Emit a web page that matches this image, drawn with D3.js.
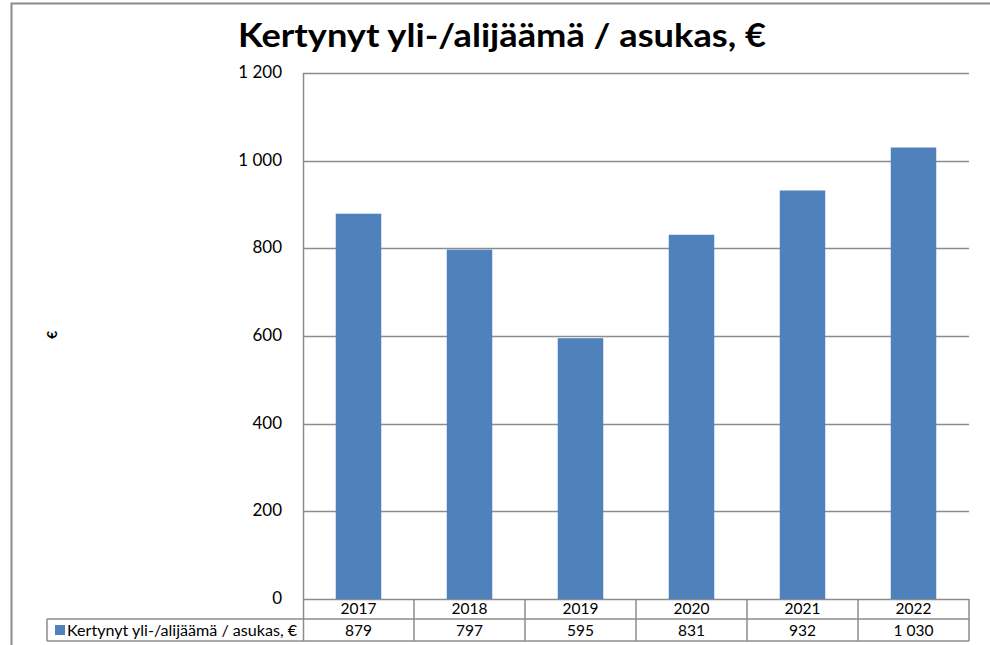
<!DOCTYPE html>
<html>
<head>
<meta charset="utf-8">
<script src="https://cdn.jsdelivr.net/npm/d3@7"></script>
<style>
  body { margin: 0; background: #fff; }
  text { font-family: Lato, "Open Sans", sans-serif; fill: #000; }
</style>
</head>
<body>
<script>
// data
const years = ['2017', '2018', '2019', '2020', '2021', '2022'];
const values = [879, 797, 595, 831, 932, 1030];
const yTicks = [0, 200, 400, 600, 800, 1000, 1200];
const seriesName = 'Kertynyt yli-/alijäämä / asukas, €';

(function () {
const width = 990, height = 645;
const pLeft = 303, pRight = 969, pTop = 73, pBottom = 599;
const fmt = v => d3.format(',')(v).replace(/,/g, ' ');

let svg = d3.select('body').append('svg')
  .attr('width', width).attr('height', height);

// outer frame
svg.append('path')
  .attr('d', `M11.5,${height + 2} V3.5 H${width + 2}`)
  .attr('fill', 'none').attr('stroke', '#8c8c8c').attr('stroke-width', 2);

svg.append('text')
  .attr('x', 502).attr('y', 47)
  .attr('text-anchor', 'middle')
  .attr('font-size', 32).attr('font-weight', 'bold')
  .attr('textLength', 528).attr('lengthAdjust', 'spacingAndGlyphs')
  .text('Kertynyt yli-/alijäämä / asukas, €');

let x = d3.scaleBand().domain(years).range([pLeft, pRight]).paddingInner(0.59).paddingOuter(0.295);
let xc = d3.scaleBand().domain(years).range([pLeft, pRight]);
let y = d3.scaleLinear().domain([0, 1200]).range([pBottom, pTop]);

// grid
svg.append('g').selectAll('line').data(yTicks).join('line')
  .attr('x1', pLeft).attr('x2', pRight)
  .attr('y1', d => Math.round(y(d)) + 0.5).attr('y2', d => Math.round(y(d)) + 0.5)
  .attr('stroke', '#8c8c8c').attr('stroke-width', 1.5);

svg.append('line')
  .attr('x1', pLeft + 0.5).attr('x2', pLeft + 0.5)
  .attr('y1', pTop).attr('y2', pBottom + 42)
  .attr('stroke', '#8c8c8c').attr('stroke-width', 1.5);

svg.append('g').selectAll('text').data(yTicks).join('text')
  .attr('x', 282).attr('y', d => y(d) + 5)
  .attr('text-anchor', 'end').attr('font-size', 17)
  .text(fmt);

svg.append('text')
  .attr('transform', 'translate(57,335) rotate(-90)')
  .attr('text-anchor', 'middle').attr('font-size', 14).attr('font-weight', 'bold')
  .text('€');

// bars
svg.append('g').selectAll('rect').data(values).join('rect')
  .attr('x', (d, i) => x(years[i]))
  .attr('width', x.bandwidth())
  .attr('y', d => y(d))
  .attr('height', d => y(0) - y(d))
  .attr('fill', '#4f81bd');

// data table
const r1 = pBottom, r2 = 619, r3 = 641, tLeft = 47;
let tbl = svg.append('g').attr('stroke', '#8c8c8c').attr('stroke-width', 1.5).attr('fill', 'none');
tbl.append('line').attr('x1', tLeft).attr('x2', pRight).attr('y1', r2).attr('y2', r2);
tbl.append('line').attr('x1', tLeft).attr('x2', pRight).attr('y1', r3).attr('y2', r3);
tbl.append('line').attr('x1', tLeft).attr('x2', tLeft).attr('y1', r2).attr('y2', r3);
tbl.selectAll('line.v').data(years).join('line').attr('class', 'v')
  .attr('x1', d => xc(d) + xc.bandwidth()).attr('x2', d => xc(d) + xc.bandwidth())
  .attr('y1', r1).attr('y2', r3);

svg.append('g').selectAll('text').data(years).join('text')
  .attr('x', d => xc(d) + xc.bandwidth() / 2).attr('y', r2 - 5)
  .attr('text-anchor', 'middle').attr('font-size', 15.5)
  .text(d => d);

svg.append('g').selectAll('text').data(values).join('text')
  .attr('x', (d, i) => xc(years[i]) + xc.bandwidth() / 2).attr('y', r3 - 5)
  .attr('text-anchor', 'middle').attr('font-size', 15.5)
  .text(fmt);

svg.append('rect').attr('x', 55).attr('y', 625).attr('width', 10).attr('height', 10).attr('fill', '#4f81bd');
svg.append('text').attr('x', 67).attr('y', r3 - 5).attr('font-size', 15.5)
  .attr('textLength', 230).attr('lengthAdjust', 'spacingAndGlyphs')
  .text(seriesName);
})();
</script>
</body>
</html>
